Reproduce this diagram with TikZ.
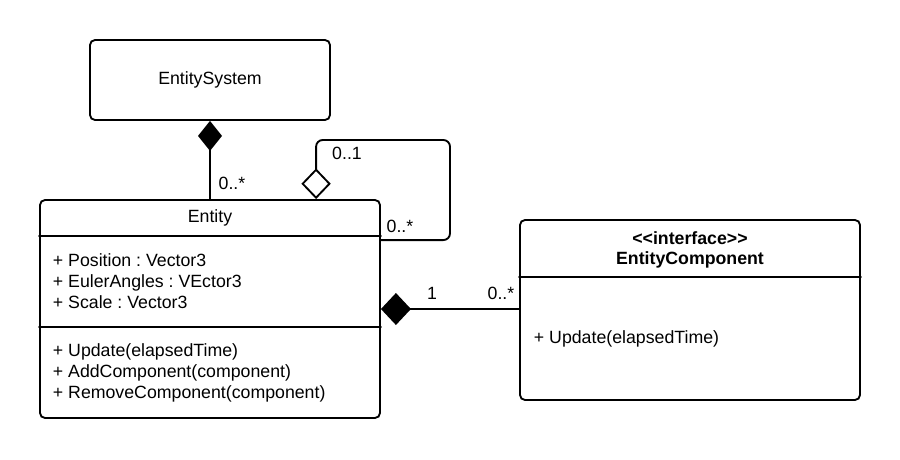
\documentclass[tikz,border=0pt]{standalone}
\usepackage{fontspec}
\newfontfamily\umlfont{Liberation Sans}
\usetikzlibrary{arrows.meta,calc}
\frenchspacing

\begin{document}
\begin{tikzpicture}[
    x=0.75pt, y=-0.75pt, % one unit = one pixel of the layout
    line width=1.4pt,
    line cap=round,
    font=\umlfont\fontsize{13.3}{15.75}\selectfont,
    class box/.style={draw, rounded corners=3.75pt, inner sep=0pt},
    member text/.style={align=left, inner sep=0pt, anchor=west},
    mult label/.style={inner sep=0pt},
    composition/.style={{Diamond[length=22.5pt, width=18pt]}-},
    composition side/.style={{Diamond[length=22.5pt, width=24pt]}-},
    aggregation/.style={{Diamond[open, length=23pt, width=22pt]}-}
]

% --- 1. FRAME ---
\useasboundingbox (0,0) rectangle (900,460);

% --- 2. CLASSES ---
% EntitySystem
\node[class box, minimum width=180pt, minimum height=60pt] (system) at (210,80) {EntitySystem};

% Entity
\node[class box, minimum width=255pt, minimum height=163.5pt] (entity) at (210,309) {};
\node (entityname) at (210,218) {Entity};
\draw ($(entity.north west)+(0,37)$) -- ($(entity.north east)+(0,37)$);
\draw ($(entity.north west)+(0,128)$) -- ($(entity.north east)+(0,128)$);
\node[member text] (attrs) at (52,281) {+ Position : Vector3\\+ EulerAngles : VEctor3\\+ Scale : Vector3};
\node[member text] (ops) at (52,373) {+ Update(elapsedTime)\\+ AddComponent(component)\\+ RemoveComponent(component)};

% EntityComponent
\node[class box, minimum width=255pt, minimum height=135pt] (component) at (690,310) {};
\node[align=center, font=\umlfont\bfseries\fontsize{13.3}{15}\selectfont] (compname) at (690,250) {<<interface>>\\EntityComponent};
\draw ($(component.north west)+(0,58)$) -- ($(component.north east)+(0,58)$);
\node[member text] (compops) at (533,339) {+ Update(elapsedTime)};

% --- 3. ASSOCIATIONS ---
% EntitySystem owns entities
\draw[composition] (system.south) -- (entity.north);
\node[mult label] (systemmult) at (232,183) {0..*};

% Entity parent / children (self reference)
\coordinate (selfstart) at ($(entity.north west)+(277,0)$);
\coordinate (selfend) at ($(entity.north east)+(0,41)$);
\draw[aggregation, rounded corners=5pt] (selfstart) |- (450,140) |- (selfend);
\node[mult label] (parentmult) at (347,153) {0..1};
\node[mult label] (childmult) at (400,226) {0..*};

% Entity owns components
\draw[composition side] (entity.east) -- (entity.east -| component.west);
\node[mult label] (ownermult) at (432,293) {1};
\node[mult label] (compmult) at (501,293) {0..*};

\end{tikzpicture}
\end{document}
